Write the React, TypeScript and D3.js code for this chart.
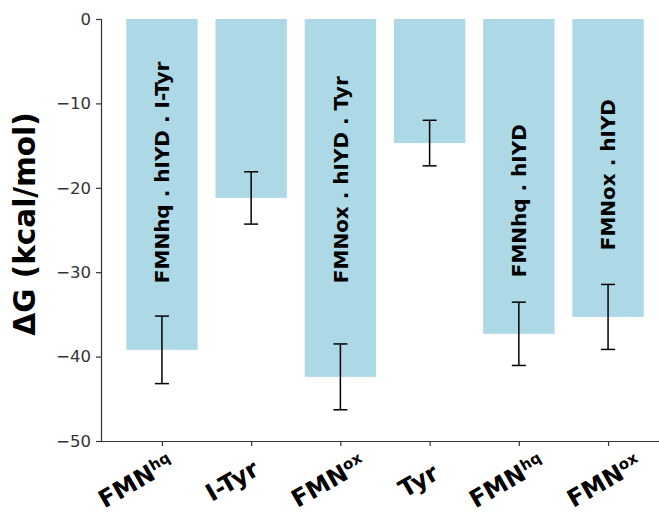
import { useEffect, useRef } from "react";
import * as d3 from "d3";

// bar values (kcal/mol) and standard deviations
const categories = ["FMNhq", "I-Tyr", "FMNox", "Tyr", "FMNhq", "FMNox"];
const tickMain = ["FMN", "I-Tyr", "FMN", "Tyr", "FMN", "FMN"];
const tickSup = ["hq", "", "ox", "", "hq", "ox"];
const dG = [-39.2, -21.2, -42.4, -14.7, -37.3, -35.3];
const errs = [4.0, 3.1, 3.9, 2.7, 3.75, 3.85];
const barLabels = ["FMNhq . hIYD . I-Tyr", "", "FMNox . hIYD . Tyr", "", "FMNhq . hIYD", "FMNox . hIYD"];
const barLabelAt = [-31.3, 0, -31.3, 0, -30.6, -27.4];
const yTicks = [0, -10, -20, -30, -40, -50];

// small per-label horizontal nudges of the rotated tick labels (px)
const tickShift = [-22, -15, -8, -7, -8, 0];

export default function App() {
  const svgRef = useRef<SVGSVGElement>(null);

  useEffect(() => {
    if (!svgRef.current) return;
    const svg = d3.select(svgRef.current);
    svg.selectAll("*").remove();

    const W = 659, H = 514;
    const left = 101, top = 19, bottom = 441;
    svg.attr("width", W).attr("height", H);

    const x = d3.scaleLinear().domain([-0.683, 5.683]).range([left, 669]);
    const y = d3.scaleLinear().domain([-50, 0]).range([bottom, top]);
    const bw = (x(0.8) - x(0));

    const font = "DejaVu Sans, sans-serif";

    // bars
    svg.append("g").selectAll("rect").data(dG).enter().append("rect")
      .attr("x", (_, i) => x(i) - bw / 2)
      .attr("y", y(0))
      .attr("width", bw)
      .attr("height", (d) => y(d) - y(0))
      .attr("fill", "#add8e6");

    // error bars
    const eb = svg.append("g").attr("stroke", "#000").attr("stroke-width", 1.5);
    dG.forEach((d, i) => {
      const cx = x(i);
      const y1 = y(d + errs[i]), y2 = y(d - errs[i]);
      eb.append("line").attr("x1", cx).attr("x2", cx).attr("y1", y1).attr("y2", y2);
      eb.append("line").attr("x1", cx - 7).attr("x2", cx + 7).attr("y1", y1).attr("y2", y1);
      eb.append("line").attr("x1", cx - 7).attr("x2", cx + 7).attr("y1", y2).attr("y2", y2);
    });

    // labels inside bars
    const inside = barLabels.map((t, i) => ({ t, i })).filter((d) => d.t !== "");
    svg.append("g").selectAll("text").data(inside).enter().append("text")
      .attr("transform", (d) => `translate(${x(d.i)},${y(barLabelAt[d.i])}) rotate(-90)`)
      .attr("dy", "0.36em")
      .attr("font-family", font).attr("font-weight", "bold").attr("font-size", 20)
      .attr("fill", "#000")
      .text((d) => d.t);

    // y axis
    const ya = svg.append("g").attr("transform", `translate(${left},0)`)
      .call(d3.axisLeft(y).tickValues(yTicks).tickSize(5).tickPadding(5).tickFormat((d) => d3.format("d")(d as number).replace("-", "\u2212")));
    ya.select(".domain").attr("stroke", "#333").attr("stroke-width", 1.2);
    ya.selectAll(".tick line").attr("stroke", "#333").attr("stroke-width", 1.2);
    ya.selectAll(".tick text").attr("font-family", font).attr("font-size", 16.5).attr("fill", "#333");

    // x axis
    const xa = svg.append("g").attr("transform", `translate(0,${bottom})`)
      .call(d3.axisBottom(x).tickValues(d3.range(categories.length)).tickSize(5).tickSizeOuter(0).tickFormat(() => ""));
    xa.select(".domain").attr("stroke", "#333").attr("stroke-width", 1.2);
    xa.selectAll(".tick line").attr("stroke", "#333").attr("stroke-width", 1.2);

    const tl = svg.append("g").selectAll("text").data(categories).enter().append("text")
      .attr("transform", (_, i) => `translate(${x(i) + tickShift[i]},${bottom + 47}) rotate(-30)`)
      .attr("text-anchor", "middle")
      .attr("font-family", font).attr("font-weight", "bold").attr("font-size", 24)
      .attr("fill", "#000");
    tl.append("tspan").text((_, i) => tickMain[i]);
    tl.append("tspan").attr("font-size", 15).attr("dy", -8).text((_, i) => tickSup[i]);

    // y label
    svg.append("text")
      .attr("transform", `translate(35,${(top + bottom) / 2 - 6}) rotate(-90)`)
      .attr("text-anchor", "middle")
      .attr("font-family", font).attr("font-weight", "bold").attr("font-size", 29.5)
      .attr("fill", "#000")
      .text("\u0394G (kcal/mol)");
  }, []);

  return (
    <div style={{ position: "absolute", left: 0, top: 0, background: "#fff" }}>
      <svg ref={svgRef} style={{ display: "block" }} />
    </div>
  );
}
